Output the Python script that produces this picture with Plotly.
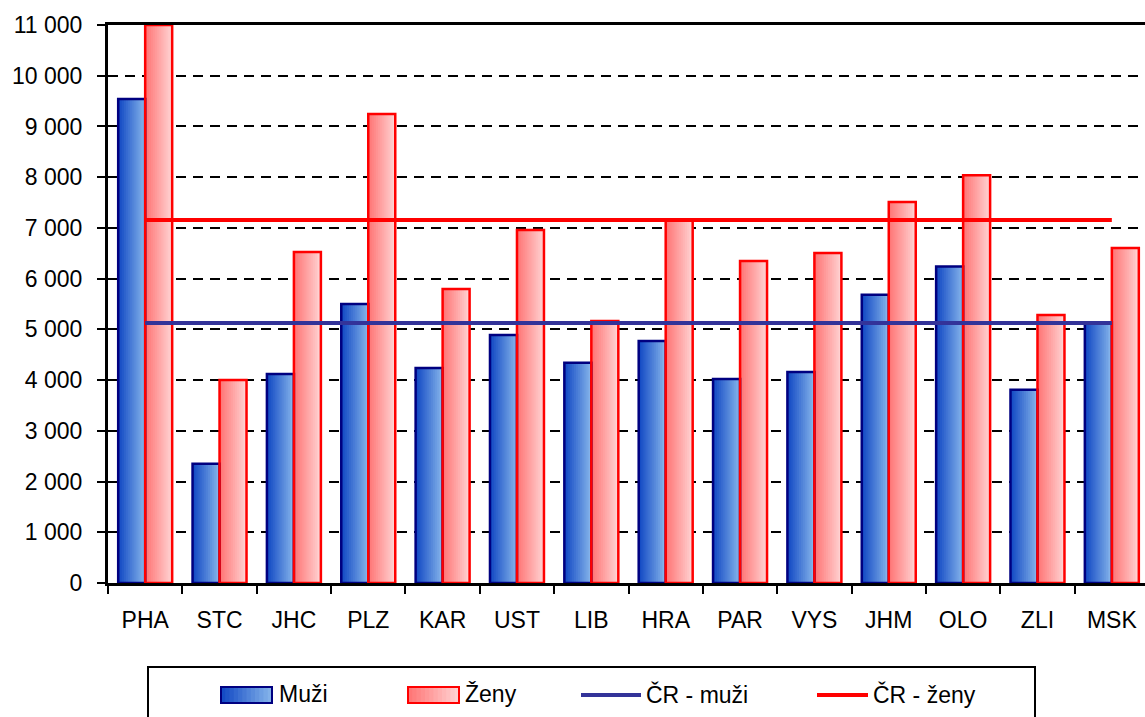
import plotly.graph_objects as go

regions = ["PHA", "STC", "JHC", "PLZ", "KAR", "UST", "LIB", "HRA", "PAR", "VYS", "JHM", "OLO", "ZLI", "MSK"]
muzi = [9540, 2350, 4120, 5500, 4240, 4890, 4340, 4770, 4020, 4160, 5680, 6240, 3810, 5140]
zeny = [11000, 4000, 6525, 9245, 5795, 6960, 5165, 7155, 6350, 6505, 7510, 8040, 5285, 6605]
cr_muzi = 5125
cr_zeny = 7155
y_ticks = [0, 1000, 2000, 3000, 4000, 5000, 6000, 7000, 8000, 9000, 10000, 11000]
legend_labels = ["Muži", "Ženy", "ČR - muži", "ČR - ženy"]

FONT = "Liberation Sans Narrow, Arial Narrow, Liberation Sans, Arial, sans-serif"
FS = 23
BAR_W = 0.363
N = 14

W, H = 1145, 717
L, R, T, B = 108, 0, 25, 134
PW, PH = W - L - R, H - T - B


def px(x):
    return (x - L) / PW


def py(y):
    return (H - B - y) / PH


def lerp(c1, c2, t):
    return "rgb(%d,%d,%d)" % tuple(round(a + (b - a) * t) for a, b in zip(c1, c2))


blue_l, blue_r = (15, 70, 195), (135, 182, 235)
pink_l, pink_r = (255, 115, 115), (255, 212, 212)
blue_line, red_line = "#000080", "#ff0000"

fig = go.Figure()

# gradient: each strip runs from its start to the bar's right edge, later strips cover earlier ones
for series, base_off, cl, cr in [(muzi, -BAR_W, blue_l, blue_r), (zeny, 0.0, pink_l, pink_r)]:
    sw = BAR_W / N
    for i in range(N):
        fig.add_trace(go.Bar(
            x=regions, y=series, width=BAR_W - i * sw, offset=base_off + i * sw,
            marker=dict(color=lerp(cl, cr, (i + 0.5) / N), line=dict(width=0)),
            showlegend=False, hoverinfo="skip"))

# outlines
for series, base_off, lc, nm in [(muzi, -BAR_W, blue_line, legend_labels[0]),
                                 (zeny, 0.0, red_line, legend_labels[1])]:
    fig.add_trace(go.Bar(
        x=regions, y=series, width=BAR_W, offset=base_off, name=nm,
        marker=dict(color="rgba(0,0,0,0)", line=dict(color=lc, width=2.5)),
        showlegend=False))

fig.add_trace(go.Scatter(x=regions, y=[cr_muzi] * len(regions), mode="lines", name=legend_labels[2],
                         line=dict(color="#333399", width=4), showlegend=False))
fig.add_trace(go.Scatter(x=regions, y=[cr_zeny] * len(regions), mode="lines", name=legend_labels[3],
                         line=dict(color="#ff0000", width=4), showlegend=False))

# ---- custom legend (box, symbols, labels) ----
shapes = []
annotations = []
shapes.append(dict(type="rect", xref="paper", yref="paper", x0=px(148), x1=px(1035), y0=py(667), y1=py(740),
                   line=dict(color="black", width=2), fillcolor="white", layer="below"))


def grad_box(x0, x1, y0, y1, cl, cr, lc):
    n = 12
    w = (x1 - x0) / n
    for i in range(n):
        shapes.append(dict(type="rect", xref="paper", yref="paper",
                           x0=px(x0 + i * w), x1=px(x1), y0=py(y1), y1=py(y0),
                           line=dict(width=0), fillcolor=lerp(cl, cr, (i + 0.5) / n)))
    shapes.append(dict(type="rect", xref="paper", yref="paper", x0=px(x0), x1=px(x1), y0=py(y1), y1=py(y0),
                       line=dict(color=lc, width=2)))


grad_box(221, 272, 687, 703, blue_l, blue_r, blue_line)
grad_box(408, 459, 687, 703, pink_l, pink_r, red_line)
shapes.append(dict(type="line", xref="paper", yref="paper", x0=px(581), x1=px(641), y0=py(695), y1=py(695),
                   line=dict(color="#333399", width=4)))
shapes.append(dict(type="line", xref="paper", yref="paper", x0=px(817), x1=px(868), y0=py(695), y1=py(695),
                   line=dict(color="#ff0000", width=4)))
for lbl, xl in zip(legend_labels, [277, 463, 644, 871]):
    annotations.append(dict(text=lbl, xref="paper", yref="paper", x=px(xl), y=py(694), xanchor="left",
                            yanchor="middle", showarrow=False, font=dict(family=FONT, size=FS, color="black")))

fig.update_layout(
    width=W, height=H,
    margin=dict(l=L, r=R, t=T, b=B),
    paper_bgcolor="white", plot_bgcolor="white",
    barmode="overlay",
    separators=", ",
    font=dict(family=FONT, size=FS, color="black"),
    showlegend=False,
    shapes=shapes,
    annotations=annotations,
    xaxis=dict(range=[-0.5, 13.446], tickson="boundaries", ticks="outside", ticklen=8,
               tickwidth=2, tickcolor="black", showline=True, linecolor="black", linewidth=3,
               mirror=True, showgrid=False, ticklabelstandoff=14, automargin=False),
    yaxis=dict(range=[0, 11000], tickvals=y_ticks, tickformat=",d", ticks="outside",
               ticklen=8, tickwidth=2, tickcolor="black", showline=True, linecolor="black",
               linewidth=3, showgrid=True, gridcolor="black", gridwidth=2, griddash="10px,7px",
               zeroline=False, ticklabelstandoff=10, automargin=False),
)

fig.write_html("out.html", config={"displayModeBar": False},
               post_script="document.body.style.margin='0';document.body.style.overflow='hidden';")
